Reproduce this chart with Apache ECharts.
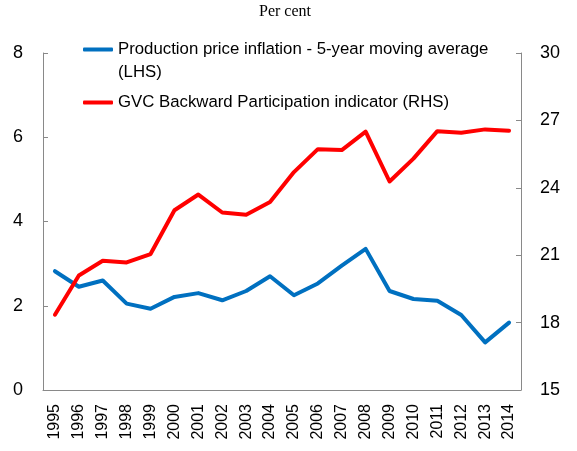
<!DOCTYPE html>
<html lang="en">
<head>
  <meta charset="utf-8">
  <title>Per cent</title>
  <script src="https://cdn.jsdelivr.net/npm/echarts@6/dist/echarts.min.js"></script>
  <style>
    html, body { margin: 0; padding: 0; background: #fff; }
    #chart { width: 577px; height: 451px; }
  </style>
</head>
<body>
<div id="chart"></div>
<script>
  // data
  const years = ['1995', '1996', '1997', '1998', '1999', '2000', '2001', '2002', '2003', '2004',
    '2005', '2006', '2007', '2008', '2009', '2010', '2011', '2012', '2013', '2014'];
  const inflation = [2.82, 2.45, 2.6, 2.05, 1.93, 2.21, 2.3, 2.13, 2.35, 2.7,
    2.25, 2.53, 2.95, 3.35, 2.35, 2.16, 2.12, 1.78, 1.13, 1.6];
  const gvc = [18.35, 20.1, 20.75, 20.68, 21.05, 23.0, 23.7, 22.9, 22.8, 23.37,
    24.7, 25.72, 25.68, 26.5, 24.28, 25.3, 26.52, 26.45, 26.6, 26.54];
  const leftTicks = [0, 8, 2];   // min, max, step
  const rightTicks = [15, 30, 3];

  const blueName = 'Production price inflation - 5-year moving average (LHS)';
  const redName = 'GVC Backward Participation indicator (RHS)';

  const axisGrey = '#898989';
  const labelFont = { color: '#000', fontFamily: 'Liberation Sans', fontSize: 18 };

  const legendText = {
    color: '#000',
    fontFamily: 'Liberation Sans',
    fontSize: 16.8,
    lineHeight: 23
  };

  let chart = echarts.init(document.getElementById('chart'));
  chart.setOption({
    animation: false,
    title: {
      text: 'Per cent',
      left: 259,
      top: 4,
      padding: 0,
      textStyle: { fontFamily: 'Liberation Serif', fontSize: 16, fontWeight: 'normal', color: '#000' }
    },
    legend: [{
      data: [blueName],
      left: 83,
      top: 15,
      padding: 0,
      icon: 'roundRect',
      itemWidth: 30,
      itemHeight: 4,
      // blank first line keeps the icon level with the first text line
      formatter: function () {
        return ' \nProduction price inflation - 5-year moving average\n(LHS)';
      },
      textStyle: legendText
    }, {
      data: [redName],
      left: 83,
      top: 91,
      padding: 0,
      icon: 'roundRect',
      itemWidth: 30,
      itemHeight: 4,
      textStyle: legendText
    }],
    grid: { left: 43, right: 56, top: 53, bottom: 61, containLabel: false },
    xAxis: {
      type: 'category',
      data: years,
      boundaryGap: true,
      axisLine: { lineStyle: { color: axisGrey, width: 1 } },
      axisTick: { length: 5, lineStyle: { color: axisGrey } },
      axisLabel: { rotate: 90, margin: 14, color: '#000', fontFamily: 'Liberation Sans', fontSize: 16 },
      splitLine: { show: false }
    },
    yAxis: [{
      type: 'value',
      min: leftTicks[0],
      max: leftTicks[1],
      interval: leftTicks[2],
      axisLine: { show: true, lineStyle: { color: axisGrey, width: 1 } },
      axisTick: { show: true, inside: true, length: 5, lineStyle: { color: axisGrey } },
      axisLabel: Object.assign({ margin: 20 }, labelFont),
      splitLine: { show: false }
    }, {
      type: 'value',
      position: 'right',
      min: rightTicks[0],
      max: rightTicks[1],
      interval: rightTicks[2],
      axisLine: { show: true, lineStyle: { color: axisGrey, width: 1 } },
      axisTick: { show: true, inside: true, length: 5, lineStyle: { color: axisGrey } },
      axisLabel: Object.assign({ margin: 19 }, labelFont),
      splitLine: { show: false }
    }],
    series: [{
      name: blueName,
      type: 'line',
      yAxisIndex: 0,
      data: inflation,
      symbol: 'none',
      itemStyle: { color: '#0070C0' },
      lineStyle: { color: '#0070C0', width: 4, cap: 'round', join: 'round' }
    }, {
      name: redName,
      type: 'line',
      yAxisIndex: 1,
      data: gvc,
      symbol: 'none',
      itemStyle: { color: '#FF0000' },
      lineStyle: { color: '#FF0000', width: 4, cap: 'round', join: 'round' }
    }]
  });
</script>
</body>
</html>
